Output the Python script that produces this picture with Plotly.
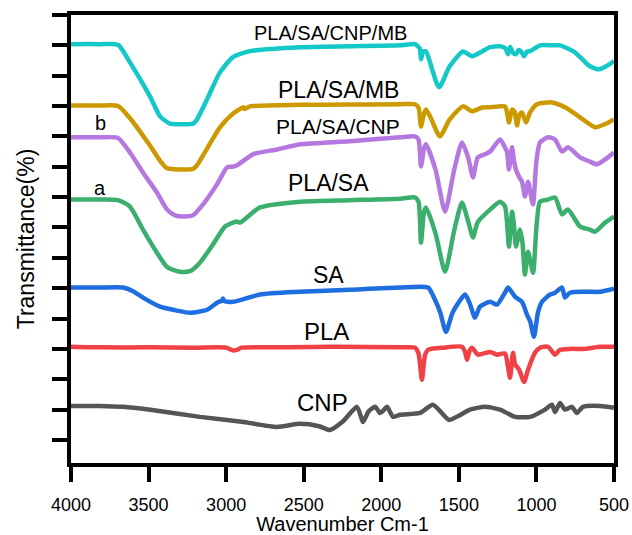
import plotly.graph_objects as go

# ---------------- data (wavenumber cm-1, offset transmittance) ----------------
wn_cnp_mb = [4000, 3813, 3697, 3620, 3491, 3426, 3362, 3290, 3213, 3188, 3123, 3040, 2956, 2846, 2524, 2202,
             1879, 1783, 1752, 1744, 1730, 1712, 1628, 1560, 1473, 1415, 1350, 1299, 1235, 1200, 1183, 1170,
             1151, 1131, 1115, 1099, 1080, 1060, 1041, 977, 900, 848, 752, 655, 597, 551, 500]
t_cnp_mb = [14.04, 14.04, 14.02, 13.44, 12.32, 11.66, 11.42, 11.40, 11.42, 11.56, 12.22, 13.11, 13.61, 13.81, 13.94, 13.97,
            14.00, 14.04, 13.90, 13.54, 13.80, 13.80, 12.62, 13.30, 13.80, 13.64, 13.80, 13.94, 13.97, 13.90, 13.71, 13.95,
            13.75, 13.71, 13.85, 13.80, 13.64, 13.80, 13.81, 14.00, 14.00, 14.00, 13.77, 13.31, 13.21, 13.31, 13.48]

wn_sa_mb = [4000, 3813, 3697, 3620, 3491, 3426, 3381, 3300, 3214, 3188, 3123, 3040, 2956, 2911, 2890, 2880, 2846,
            2524, 2202, 1879, 1783, 1760, 1744, 1725, 1712, 1680, 1622, 1560, 1473, 1415, 1350, 1299, 1203, 1190,
            1177, 1157, 1140, 1125, 1110, 1093, 1067, 1041, 996, 900, 816, 719, 622, 560, 500]
t_sa_mb = [12.02, 12.02, 12.00, 11.60, 10.70, 10.20, 9.95, 9.91, 9.93, 10.05, 10.60, 11.30, 11.75, 11.90, 11.96, 11.90, 11.99,
           12.04, 12.05, 12.06, 12.06, 11.95, 11.33, 11.75, 11.89, 11.60, 11.00, 11.55, 11.99, 11.83, 11.95, 11.96, 11.99, 11.80,
           11.46, 11.89, 11.80, 11.36, 11.70, 11.79, 11.46, 11.79, 12.06, 12.12, 11.96, 11.63, 11.30, 11.40, 11.56]

wn_sa_cnp = [4000, 3813, 3697, 3620, 3536, 3446, 3381, 3330, 3265, 3214, 3149, 3059, 2994, 2962, 2930, 2827, 2672,
             2524, 2202, 1879, 1783, 1760, 1744, 1725, 1712, 1650, 1589, 1530, 1480, 1440, 1409, 1390, 1377, 1332,
             1299, 1235, 1203, 1190, 1177, 1157, 1145, 1132, 1110, 1093, 1074, 1054, 1041, 1022, 1000, 977, 925,
             880, 835, 797, 719, 655, 610, 558, 500]
t_sa_cnp = [10.97, 10.97, 10.95, 10.47, 9.81, 9.15, 8.59, 8.40, 8.36, 8.40, 8.76, 9.42, 9.98, 10.00, 10.05, 10.41, 10.57,
            10.74, 10.84, 10.97, 11.00, 10.90, 10.01, 10.60, 10.74, 9.90, 8.52, 9.90, 10.80, 10.30, 9.65, 10.10, 10.31, 10.41,
            10.50, 10.90, 10.64, 10.50, 9.91, 10.64, 10.20, 9.91, 9.65, 9.51, 9.02, 9.51, 9.20, 8.76, 10.20, 10.80, 10.97,
            10.90, 10.50, 10.64, 10.31, 10.17, 10.08, 10.24, 10.47]

wn_pla_sa = [4000, 3813, 3697, 3620, 3536, 3446, 3381, 3300, 3233, 3169, 3085, 3007, 2956, 2930, 2911, 2782, 2524,
             2202, 1879, 1783, 1760, 1744, 1725, 1712, 1650, 1589, 1530, 1480, 1440, 1409, 1390, 1377, 1299, 1235,
             1203, 1190, 1177, 1157, 1145, 1132, 1106, 1090, 1074, 1054, 1022, 1000, 977, 925, 880, 835, 797, 719,
             655, 622, 558, 500]
t_pla_sa = [8.92, 8.92, 8.90, 8.69, 7.93, 7.17, 6.70, 6.54, 6.56, 6.84, 7.44, 8.03, 8.16, 8.20, 8.16, 8.66, 8.85,
            8.90, 8.95, 8.99, 8.85, 7.50, 8.50, 8.66, 7.80, 6.54, 7.90, 8.82, 8.20, 7.67, 8.00, 8.19, 8.59, 8.85,
            8.70, 8.20, 7.37, 8.52, 8.10, 7.37, 7.93, 7.50, 6.45, 7.20, 6.51, 8.00, 8.85, 8.92, 8.99, 8.43, 8.59, 8.03,
            7.93, 7.86, 8.16, 8.36]

wn_sa = [4000, 3813, 3665, 3600, 3536, 3426, 3317, 3233, 3123, 3059, 3025, 3020, 3015, 2956, 2782, 2524, 2202,
         1879, 1699, 1654, 1620, 1583, 1540, 1460, 1430, 1396, 1364, 1299, 1254, 1203, 1183, 1138, 1093, 1061,
         1040, 1016, 990, 964, 912, 880, 835, 816, 784, 687, 590, 500]
t_sa = [6.02, 6.02, 6.02, 5.90, 5.69, 5.39, 5.26, 5.19, 5.29, 5.52, 5.60, 5.66, 5.58, 5.55, 5.79, 5.88, 5.95,
        6.02, 6.02, 5.62, 5.20, 4.56, 5.20, 5.79, 5.50, 5.03, 5.39, 5.55, 5.46, 5.85, 6.02, 5.72, 5.55, 5.13,
        4.90, 4.40, 5.20, 5.55, 5.79, 5.85, 6.02, 5.69, 5.85, 5.88, 5.88, 5.98]

wn_pla = [4000, 3813, 3500, 3200, 3000, 2956, 2930, 2900, 2600, 2300, 1879, 1783, 1760, 1738, 1718, 1699, 1600,
          1480, 1460, 1447, 1430, 1415, 1377, 1299, 1254, 1203, 1183, 1170, 1151, 1138, 1110, 1080, 1054, 1010,
          977, 925, 880, 848, 784, 687, 590, 500]
t_pla = [4.07, 4.05, 4.05, 4.04, 4.04, 3.95, 3.97, 4.04, 4.05, 4.07, 4.05, 4.04, 3.85, 2.98, 3.80, 3.97, 4.04,
         4.07, 3.90, 3.64, 3.95, 4.04, 3.81, 3.90, 3.81, 3.85, 3.40, 3.05, 3.87, 3.50, 3.30, 2.91, 3.31, 3.87,
         4.04, 4.07, 3.81, 3.97, 4.00, 4.00, 4.07, 4.07]

wn_cnp = [4000, 3813, 3665, 3500, 3169, 2900, 2672, 2524, 2400, 2331, 2250, 2157, 2130, 2118, 2080, 2040, 2008,
          1990, 1963, 1924, 1879, 1750, 1667, 1564, 1500, 1428, 1332, 1235, 1138, 1041, 945, 900, 880, 848, 816,
          771, 739, 700, 590, 500]
t_cnp = [2.12, 2.12, 2.09, 2.00, 1.76, 1.60, 1.43, 1.53, 1.45, 1.33, 1.60, 2.09, 1.75, 1.59, 1.95, 2.09, 1.89,
         1.95, 2.09, 1.76, 1.83, 1.89, 2.16, 1.66, 1.80, 2.00, 2.09, 2.00, 1.76, 1.76, 2.00, 2.16, 1.92, 2.22, 2.00,
         2.09, 1.89, 2.09, 2.12, 2.06]

series = [
    ("CNP", wn_cnp, t_cnp, "#555555"),
    ("PLA", wn_pla, t_pla, "#ef4146"),
    ("SA", wn_sa, t_sa, "#1e6ee1"),
    ("PLA/SA", wn_pla_sa, t_pla_sa, "#3caf6e"),
    ("PLA/SA/CNP", wn_sa_cnp, t_sa_cnp, "#b478e0"),
    ("PLA/SA/MB", wn_sa_mb, t_sa_mb, "#cc9900"),
    ("PLA/SA/CNP/MB", wn_cnp_mb, t_cnp_mb, "#14c8c8"),
]

# label text, wavenumber, y, font size
labels = [
    ("PLA/SA/CNP/MB", 2330, 14.42, 20),
    ("PLA/SA/MB", 2273, 12.52, 23),
    ("PLA/SA/CNP", 2279, 11.33, 21),
    ("PLA/SA", 2343, 9.45, 23),
    ("SA", 2343, 6.45, 23),
    ("PLA", 2350, 4.57, 24),
    ("CNP", 2382, 2.22, 24),
    ("a", 3813, 9.30, 20),
    ("b", 3813, 11.44, 20),
]

x_ticks = [4000, 3500, 3000, 2500, 2000, 1500, 1000, 500]
y_ticks = list(range(1, 16))

FONT = "Liberation Sans, Arial, sans-serif"

fig = go.Figure()
for name, x, y, c in series:
    fig.add_trace(go.Scatter(x=x, y=y, mode="lines", name=name,
                             line=dict(color=c, width=4.5, shape="spline", smoothing=0.6)))

for txt, x, y, s in labels:
    fig.add_annotation(x=x, y=y, text=txt, showarrow=False, xanchor="center", yanchor="middle",
                       font=dict(family=FONT, size=s, color="black"))

fig.update_layout(
    width=632, height=535,
    margin=dict(l=71, r=18, t=15, b=72),
    paper_bgcolor="white", plot_bgcolor="white",
    showlegend=False,
    font=dict(family=FONT, color="black"),
)
fig.update_xaxes(range=[4000, 500], tickvals=x_ticks, ticktext=[str(v) for v in x_ticks],
                 ticks="outside", ticklen=15, tickwidth=4, tickcolor="black",
                 showline=True, linewidth=4, linecolor="black", mirror=True,
                 showgrid=False, zeroline=False, automargin=False, ticklabelstandoff=7,
                 tickfont=dict(family=FONT, size=18, color="black"),
                 title=dict(text="Wavenumber Cm-1", font=dict(family=FONT, size=20, color="black"), standoff=10))
fig.update_yaxes(range=[0.24, 15.0], tickvals=y_ticks, showticklabels=False,
                 ticks="outside", ticklen=15, tickwidth=4, tickcolor="black",
                 showline=True, linewidth=4, linecolor="black", mirror=True,
                 showgrid=False, zeroline=False, automargin=False,
                 title=dict(text="Transmittance(%)", font=dict(family=FONT, size=23, color="black"), standoff=12))

fig.write_html("out.html")
